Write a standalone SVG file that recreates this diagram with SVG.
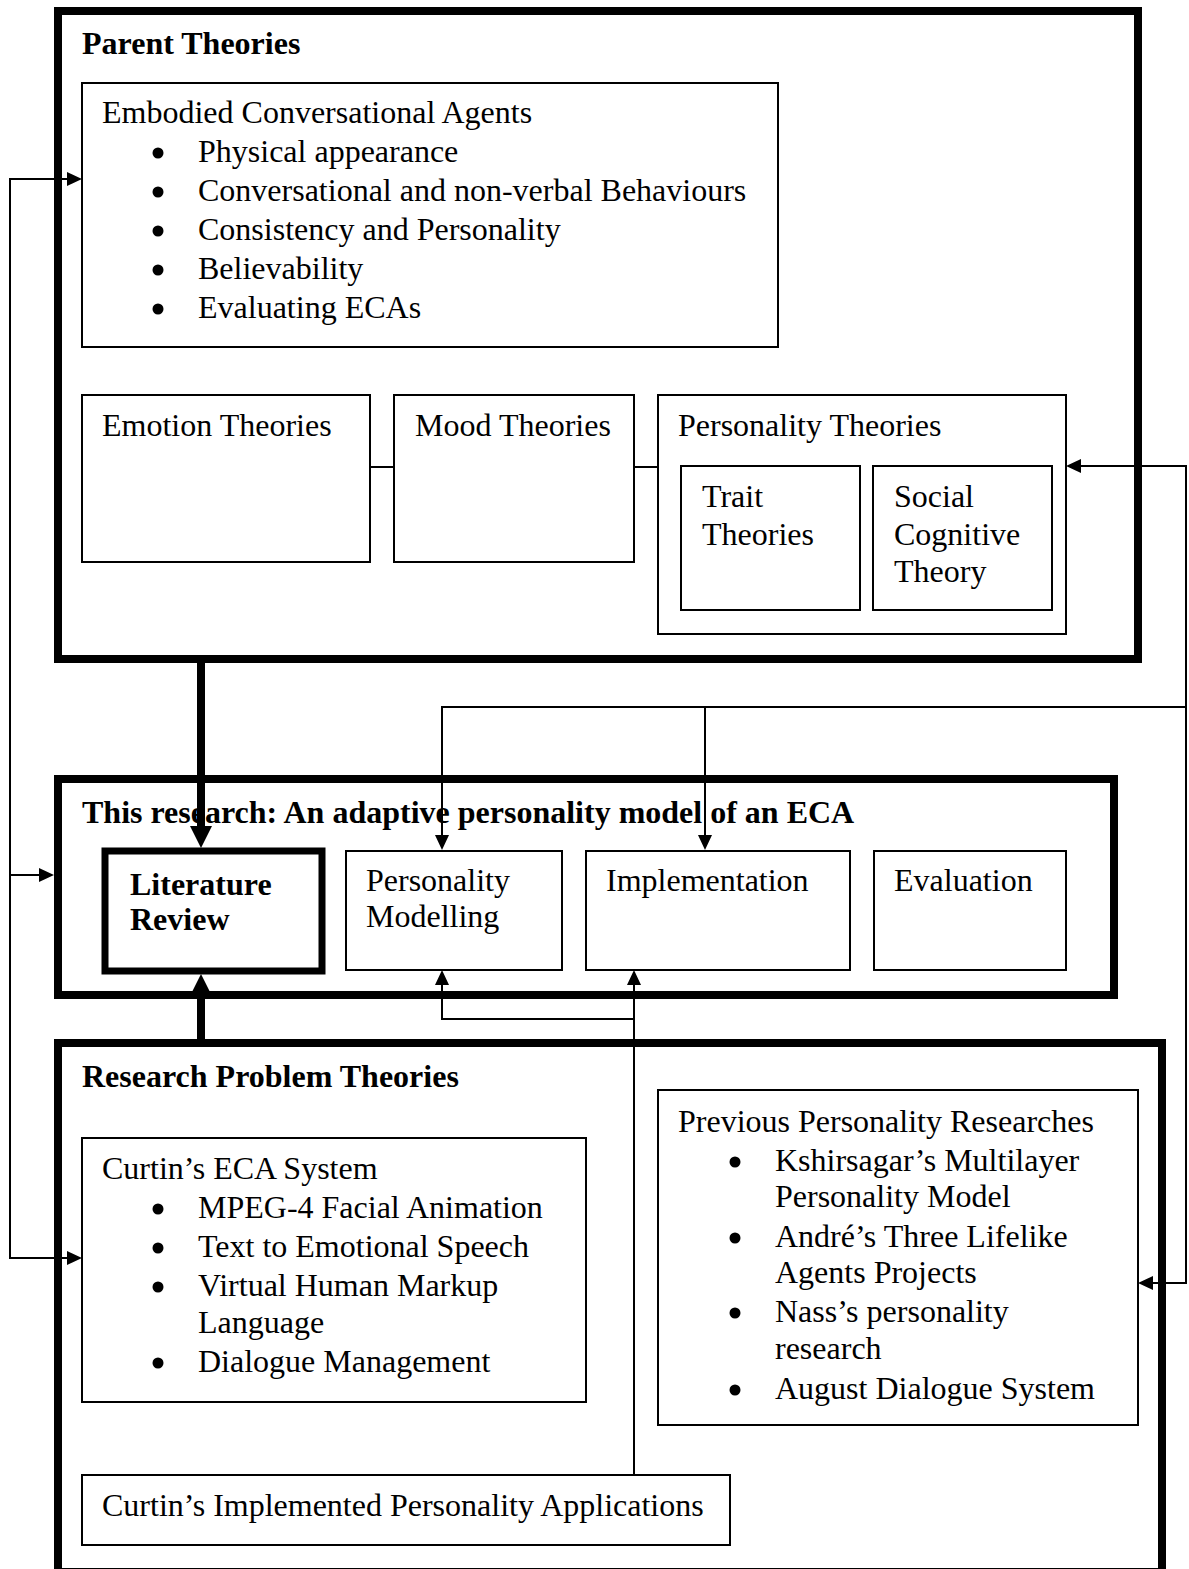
<svg xmlns="http://www.w3.org/2000/svg" width="1189" height="1569" viewBox="0 0 1189 1569">
  <defs>
    <!-- arrowheads start where the line stops, so the tip stays sharp -->
    <marker id="arr" markerUnits="userSpaceOnUse" viewBox="0 0 15 14" refX="0" refY="7" markerWidth="15" markerHeight="14" orient="auto" overflow="visible">
      <path d="M0,0 L15,7 L0,14 Z" fill="#000"/>
    </marker>
    <marker id="arrBig" markerUnits="userSpaceOnUse" viewBox="0 0 22 22" refX="0" refY="11" markerWidth="22" markerHeight="22" orient="auto" overflow="visible">
      <path d="M0,0 L22,11 L0,22 Z" fill="#000"/>
    </marker>
    <style>
      text { font-family: "Liberation Serif", "Times New Roman", serif; font-size: 32px; fill: #000; }
      .b { font-weight: bold; }
      .outer { fill: none; stroke: #000; stroke-width: 8; }
      .box { fill: #fff; stroke: #000; stroke-width: 2; }
      .thickbox { fill: #fff; stroke: #000; stroke-width: 7; }
      .thin { fill: none; stroke: #000; stroke-width: 2; }
      .thick { fill: none; stroke: #000; stroke-width: 8; }
      .dot { fill: #000; }
    </style>
  </defs>
  <rect width="1189" height="1569" fill="#fff"/>

  <!-- Parent theories container -->
  <g id="parent-theories">
    <rect class="outer" x="58" y="11" width="1080" height="648"/>
    <text class="b" x="82" y="54">Parent Theories</text>
  </g>

  <g id="eca">
    <rect class="box" x="82" y="83" width="696" height="264"/>
    <text x="102" y="123">Embodied Conversational Agents</text>
    <circle class="dot" cx="158" cy="153" r="5.5"/>
    <text x="198" y="162">Physical appearance</text>
    <circle class="dot" cx="158" cy="192" r="5.5"/>
    <text x="198" y="201">Conversational and non-verbal Behaviours</text>
    <circle class="dot" cx="158" cy="231" r="5.5"/>
    <text x="198" y="240">Consistency and Personality</text>
    <circle class="dot" cx="158" cy="270" r="5.5"/>
    <text x="198" y="279">Believability</text>
    <circle class="dot" cx="158" cy="309" r="5.5"/>
    <text x="198" y="318">Evaluating ECAs</text>
  </g>

  <g id="emotion-theories">
    <rect class="box" x="82" y="395" width="288" height="167"/>
    <text x="102" y="436">Emotion Theories</text>
  </g>

  <g id="mood-theories">
    <rect class="box" x="394" y="395" width="240" height="167"/>
    <text x="415" y="436">Mood Theories</text>
  </g>

  <g id="personality-theories">
    <rect class="box" x="658" y="395" width="408" height="239"/>
    <text x="678" y="436">Personality Theories</text>
  </g>

  <g id="trait-theories">
    <rect class="box" x="681" y="466" width="179" height="144"/>
    <text x="702" y="507">Trait</text>
    <text x="702" y="545">Theories</text>
  </g>

  <g id="social-cognitive">
    <rect class="box" x="873" y="466" width="179" height="144"/>
    <text x="894" y="507">Social</text>
    <text x="894" y="545">Cognitive</text>
    <text x="894" y="582">Theory</text>
  </g>

  <!-- This research container -->
  <g id="this-research">
    <rect class="outer" x="58" y="779" width="1056" height="216"/>
    <text class="b" x="82" y="823">This research: An adaptive personality model of an ECA</text>
  </g>

  <g id="literature-review">
    <rect class="thickbox" x="105" y="851" width="217" height="120"/>
    <text class="b" x="130" y="895">Literature</text>
    <text class="b" x="130" y="930">Review</text>
  </g>

  <g id="personality-modelling">
    <rect class="box" x="346" y="851" width="216" height="119"/>
    <text x="366" y="891">Personality</text>
    <text x="366" y="927">Modelling</text>
  </g>

  <g id="implementation">
    <rect class="box" x="586" y="851" width="264" height="119"/>
    <text x="606" y="891">Implementation</text>
  </g>

  <g id="evaluation">
    <rect class="box" x="874" y="851" width="192" height="119"/>
    <text x="894" y="891">Evaluation</text>
  </g>

  <!-- Research problem theories container -->
  <g id="research-problem">
    <rect class="outer" x="58" y="1043" width="1104" height="529"/>
    <text class="b" x="82" y="1087">Research Problem Theories</text>
  </g>

  <g id="curtin-eca">
    <rect class="box" x="82" y="1138" width="504" height="264"/>
    <text x="102" y="1179">Curtin’s ECA System</text>
    <circle class="dot" cx="158" cy="1209" r="5.5"/>
    <text x="198" y="1218">MPEG-4 Facial Animation</text>
    <circle class="dot" cx="158" cy="1248" r="5.5"/>
    <text x="198" y="1257">Text to Emotional Speech</text>
    <circle class="dot" cx="158" cy="1287" r="5.5"/>
    <text x="198" y="1296">Virtual Human Markup</text>
    <text x="198" y="1333">Language</text>
    <circle class="dot" cx="158" cy="1363" r="5.5"/>
    <text x="198" y="1372">Dialogue Management</text>
  </g>

  <g id="previous-research">
    <rect class="box" x="658" y="1090" width="480" height="335"/>
    <text x="678" y="1132">Previous Personality Researches</text>
    <circle class="dot" cx="735" cy="1162" r="5.5"/>
    <text x="775" y="1171">Kshirsagar’s Multilayer</text>
    <text x="775" y="1207">Personality Model</text>
    <circle class="dot" cx="735" cy="1238" r="5.5"/>
    <text x="775" y="1247">André’s Three Lifelike</text>
    <text x="775" y="1283">Agents Projects</text>
    <circle class="dot" cx="735" cy="1313" r="5.5"/>
    <text x="775" y="1322">Nass’s personality</text>
    <text x="775" y="1359">research</text>
    <circle class="dot" cx="735" cy="1390" r="5.5"/>
    <text x="775" y="1399">August Dialogue System</text>
  </g>

  <g id="curtin-applications">
    <rect class="box" x="82" y="1475" width="648" height="70"/>
    <text x="102" y="1516">Curtin’s Implemented Personality Applications</text>
  </g>

  <!-- Connectors -->
  <g id="connectors">
    <!-- links between theory boxes -->
    <line class="thin" x1="370" y1="467" x2="394" y2="467"/>
    <line class="thin" x1="634" y1="467" x2="658" y2="467"/>

    <!-- thick feeds into the literature review -->
    <line class="thick" x1="201" y1="663" x2="201" y2="826" marker-end="url(#arrBig)"/>
    <line class="thick" x1="201" y1="1039" x2="201" y2="996" marker-end="url(#arrBig)"/>

    <!-- left feedback loop -->
    <polyline class="thin" points="67,179 10,179 10,1258 67,1258"/>
    <line class="thin" x1="60" y1="179" x2="67" y2="179" marker-end="url(#arr)"/>
    <line class="thin" x1="60" y1="1258" x2="67" y2="1258" marker-end="url(#arr)"/>
    <line class="thin" x1="10" y1="875" x2="39" y2="875" marker-end="url(#arr)"/>

    <!-- right feedback loop -->
    <polyline class="thin" points="1081,466 1186,466 1186,1283 1153,1283"/>
    <line class="thin" x1="1100" y1="466" x2="1081" y2="466" marker-end="url(#arr)"/>
    <line class="thin" x1="1170" y1="1283" x2="1153" y2="1283" marker-end="url(#arr)"/>
    <polyline class="thin" points="1186,707 442,707 442,835" marker-end="url(#arr)"/>
    <line class="thin" x1="705" y1="707" x2="705" y2="835" marker-end="url(#arr)"/>

    <!-- applications up to modelling and implementation -->
    <line class="thin" x1="634" y1="1475" x2="634" y2="985" marker-end="url(#arr)"/>
    <polyline class="thin" points="634,1019 442,1019 442,985" marker-end="url(#arr)"/>
  </g>
</svg>
